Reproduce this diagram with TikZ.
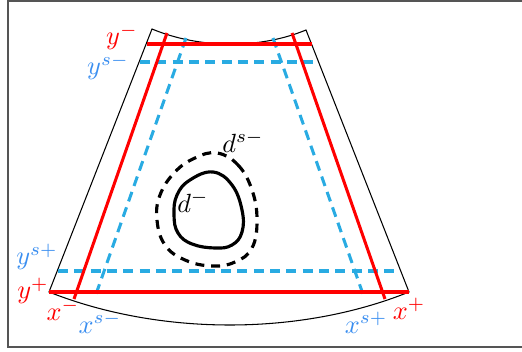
\documentclass[tikz,border=0pt]{standalone}
\usepackage{xcolor}
\usepackage{amsmath,amssymb}
\usepackage{tikz}
\usetikzlibrary{positioning}
\definecolor{cutred}{HTML}{FF0000}
\definecolor{safeline}{HTML}{29ABE2}
\definecolor{safelabel}{HTML}{3A8EF0}
\definecolor{framegray}{HTML}{555555}
\tikzset{
  outline/.style={draw=black, line width=0.4pt},
  cutline/.style={draw=cutred, line width=1.15pt},
  safecut/.style={draw=safeline, line width=1.15pt, dash pattern=on 3.8pt off 2.4pt},
  defect/.style={draw=black, line width=1.2pt},
  defectsafe/.style={draw=black, line width=1.2pt, dash pattern=on 3.4pt off 2.6pt},
  redlabel/.style={text=cutred, inner sep=0pt},
  bluelabel/.style={text=safelabel, inner sep=0pt}
}

\begin{document}
\begin{tikzpicture}[x=0.38pt,y=-0.38pt]
  \useasboundingbox (0,0) rectangle (522,352);
  \draw[framegray, line width=0.6pt] (8,1) rectangle (530,347);

  % board outline
  \coordinate (tl) at (152,29);
  \coordinate (tr) at (306,30);
  \coordinate (bl) at (49,292);
  \coordinate (br) at (409,292);
  \draw[outline] (tl) .. controls (200,49) and (260,49) .. (tr)
    -- (br) .. controls (300,336) and (160,336) .. (bl) -- cycle;

  % safety cuts
  \coordinate (ysm-l) at (140,62);   \coordinate (ysm-r) at (319,62);
  \coordinate (ysp-l) at (58,271);   \coordinate (ysp-r) at (400,271);
  \coordinate (xsm-t) at (186,38);   \coordinate (xsm-b) at (95,297);
  \coordinate (xsp-t) at (273,38);   \coordinate (xsp-b) at (364,297);
  \draw[safecut] (ysm-l) -- (ysm-r);
  \draw[safecut] (ysp-l) -- (ysp-r);
  \draw[safecut] (xsm-t) -- (xsm-b);
  \draw[safecut] (xsp-t) -- (xsp-b);

  % cuts
  \coordinate (ym-l) at (147,44);   \coordinate (ym-r) at (312,44);
  \coordinate (xm-t) at (167,33);   \coordinate (xm-b) at (74,299);
  \coordinate (xp-t) at (292,33);   \coordinate (xp-b) at (385,299);
  \draw[cutline] (ym-l) -- (ym-r);
  \draw[cutline] (bl) -- (br);
  \draw[cutline] (xm-t) -- (xm-b);
  \draw[cutline] (xp-t) -- (xp-b);

  % defect and its safety zone
  \draw[defect] plot[smooth cycle, tension=0.7] coordinates {
    (213,172) (232,185) (242,210) (242,232) (232,245) (215,248)
    (192,244) (178,233) (174,215) (177,195) (190,180)};
  \draw[defectsafe] plot[smooth cycle, tension=0.7] coordinates {
    (217,153) (238,165) (252,190) (257,220) (252,248) (235,262)
    (212,266) (185,260) (165,245) (157,220) (160,195) (175,172) (195,158)};

  % labels
  \node[redlabel] (lbl-ym) at (122,37) {$y^-$};
  \node[bluelabel] (lbl-ysm) at (108,67) {$y^{s-}$};
  \node[bluelabel] (lbl-ysp) at (37,257) {$y^{s+}$};
  \node[redlabel] (lbl-yp) at (33,291) {$y^+$};
  \node[redlabel] (lbl-xm) at (63,310) {$x^-$};
  \node[bluelabel] (lbl-xsm) at (100,323) {$x^{s-}$};
  \node[bluelabel] (lbl-xsp) at (366,323) {$x^{s+}$};
  \node[redlabel] (lbl-xp) at (409,309) {$x^+$};
  \node[inner sep=0pt] (lbl-dsm) at (243,142) {$d^{s-}$};
  \node[inner sep=0pt] (lbl-dm) at (193,202) {$d^-$};
\end{tikzpicture}
\end{document}
